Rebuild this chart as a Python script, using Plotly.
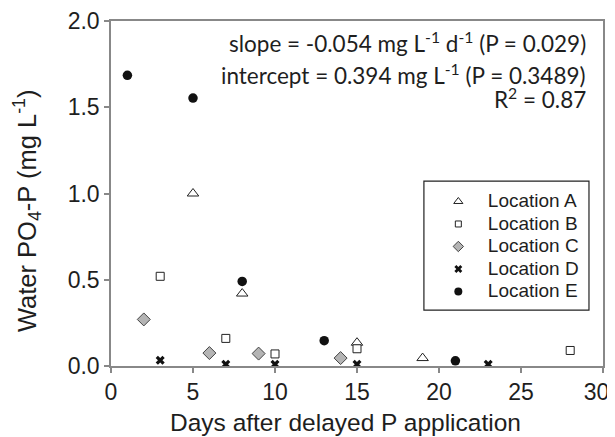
import plotly.graph_objects as go

# Data (days, water PO4-P mg/L)
loc_a_x = [5, 8, 15, 19]
loc_a_y = [1.00, 0.42, 0.135, 0.046]
loc_b_x = [3, 7, 10, 15, 28]
loc_b_y = [0.52, 0.16, 0.07, 0.10, 0.09]
loc_c_x = [2, 6, 9, 14]
loc_c_y = [0.27, 0.075, 0.072, 0.046]
loc_d_x = [3, 7, 10, 15, 23]
loc_d_y = [0.033, 0.01, 0.01, 0.01, 0.01]
loc_e_x = [1, 5, 8, 13, 21]
loc_e_y = [1.685, 1.553, 0.49, 0.147, 0.03]

x_ticks = [0, 5, 10, 15, 20, 25, 30]
x_tick_labels = ["0", "5", "10", "15", "20", "25", "30\u00a0\u00a0"]
y_ticks = [0.0, 0.5, 1.0, 1.5, 2.0]
y_tick_labels = ["0.0", "0.5", "1.0", "1.5", "2.0"]

series = [
    ("Location A", loc_a_x, loc_a_y, dict(symbol="triangle-up", size=10, color="white",
                                          line=dict(color="#222", width=1)), 8),
    ("Location B", loc_b_x, loc_b_y, dict(symbol="square", size=8, color="white",
                                          line=dict(color="#222", width=1)), 6),
    ("Location C", loc_c_x, loc_c_y, dict(symbol="diamond", size=10, color="#b4b4b4",
                                          line=dict(color="#444", width=1)), 8),
    ("Location D", loc_d_x, loc_d_y, dict(symbol="x", size=8, color="#111",
                                          line=dict(width=0)), 7),
    ("Location E", loc_e_x, loc_e_y, dict(symbol="circle", size=9.5, color="#111",
                                          line=dict(width=0)), 8),
]

fig = go.Figure()
for name, xs, ys, mk, lsize in series:
    fig.add_trace(go.Scatter(x=xs, y=ys, mode="markers", name=name, showlegend=False,
                             marker=mk))
for name, xs, ys, mk, lsize in series:
    lm = dict(mk)
    lm["size"] = lsize
    fig.add_trace(go.Scatter(x=[None], y=[None], mode="markers",
                             name='<span style="font-size:19px">' + name + "</span>",
                             showlegend=True, marker=lm))

axis_common = dict(showgrid=False, zeroline=False, showline=True, linecolor="#888888",
                   linewidth=1.5, mirror=True, ticks="outside", ticklen=5,
                   tickcolor="#888888", tickwidth=1.5, automargin=False,
                   ticklabeloverflow="allow",
                   tickfont=dict(family="Liberation Sans, Arial", size=23, color="#1e1e1e"))

fig.update_xaxes(range=[0, 30], tickvals=x_ticks, ticktext=x_tick_labels, **axis_common)
fig.update_yaxes(range=[0, 2.0], tickvals=y_ticks, ticktext=y_tick_labels, **axis_common)

fig.add_annotation(text="Days after delayed P application", xref="paper", yref="paper",
                   x=0.4776, y=-0.165, xanchor="center", yanchor="middle",
                   showarrow=False, font=dict(family="Liberation Sans, Arial", size=24.5,
                                              color="#1e1e1e"))
fig.add_annotation(text="Water PO<sub>4</sub>-P (mg L<sup>-1</sup>)", xref="paper",
                   yref="paper", x=-0.1707, y=0.449, xanchor="center", yanchor="middle",
                   textangle=-90, showarrow=False,
                   font=dict(family="Liberation Sans, Arial", size=25.5, color="#1e1e1e"))

ann_font = dict(family="Lato, Open Sans", size=22.5, color="#1e1e1e")
lines = [
    ("slope = -0.054 mg L<sup>-1</sup> d<sup>-1</sup> (P = 0.029)", 1.878),
    ("intercept = 0.394 mg L<sup>-1</sup> (P = 0.3489)", 1.694),
    ("R<sup>2</sup> = 0.87", 1.554),
]
for txt, yv in lines:
    fig.add_annotation(x=0.969, xref="paper", y=yv, yref="y", text=txt, showarrow=False,
                       xanchor="right", yanchor="middle", font=ann_font)

# legend frame
fig.add_shape(type="rect", xref="paper", yref="paper", x0=0.636, x1=0.9715,
              y0=0.162, y1=0.536, line=dict(color="#222", width=1.2),
              fillcolor="white", layer="above")

# page body has an 8px margin, so the figure is 8px smaller and offset
fig.update_layout(
    width=607, height=429,
    margin=dict(l=103, r=12, t=13, b=71),
    plot_bgcolor="white", paper_bgcolor="white",
    showlegend=True,
    legend=dict(x=0.646, y=0.524, xanchor="left", yanchor="top",
                bgcolor="rgba(0,0,0,0)", borderwidth=0,
                font=dict(family="Liberation Sans, Arial", size=15, color="#1e1e1e"),
                itemwidth=49, tracegroupgap=0),
)

fig.write_html("out.html")
